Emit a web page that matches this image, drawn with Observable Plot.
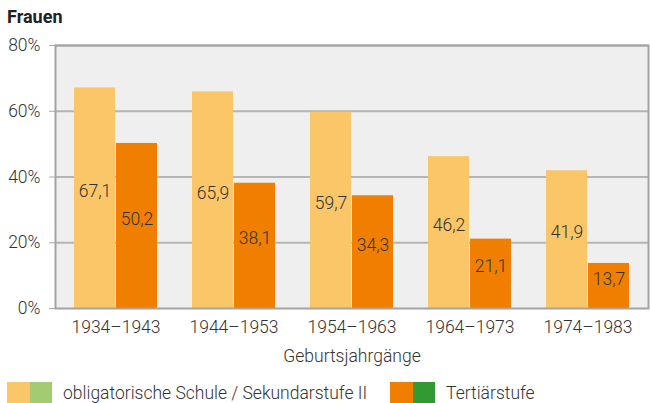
<!DOCTYPE html>
<html><head><meta charset="utf-8">
<script src="https://cdn.jsdelivr.net/npm/d3@7"></script>
<script src="https://cdn.jsdelivr.net/npm/@observablehq/plot@0.6"></script>
<style>
body{margin:0;background:#fff;font-family:Roboto,sans-serif;}
#wrap{position:relative;width:650px;height:403px;overflow:hidden}
#title{position:absolute;left:7px;top:7px;font-size:18px;font-weight:700;color:#222;line-height:20px}
#chart{position:absolute;left:0;top:30px}
#chart svg text{fill:#333}
#legend{position:absolute;left:7px;top:382px;display:flex;align-items:center;font-size:17.5px;font-weight:300;color:#333;line-height:22px;white-space:nowrap}
.sw{width:22.5px;height:22px;display:inline-block}
</style></head><body>
<div id="wrap"><div id="title">Frauen</div><div id="chart"></div><div id="legend"></div></div>
<script>
const cohorts = ["1934–1943","1944–1953","1954–1963","1964–1973","1974–1983"];
const secondary = [67.1, 65.9, 59.7, 46.2, 41.9];
const tertiary = [50.2, 38.1, 34.3, 21.1, 13.7];
const yTicks = [0, 20, 40, 60, 80];
const seriesNames = ["obligatorische Schule / Sekundarstufe II", "Tertiärstufe"];
const seriesColors = [["#fbc667", "#a3cb72"], ["#f07f00", "#339a33"]];
const xTitle = "Geburtsjahrgänge";

const data = cohorts.map((c, i) => ({cohort: c, secondary: secondary[i], tertiary: tertiary[i]}));
const fmt = v => v.toFixed(1).replace(".", ",");
const half = 42;

const chart = Plot.plot({
  width: 650, height: 345,
  marginTop: 15, marginBottom: 67, marginLeft: 55, marginRight: 2,
  style: {fontFamily: "Roboto, sans-serif", fontSize: "17.5px", fontWeight: 300, color: "#a8a8a8", background: "transparent"},
  x: {domain: cohorts, paddingInner: 0.295, paddingOuter: 0.1475, tickSize: 0, tickPadding: 12, label: xTitle, labelOffset: 53},
  y: {domain: [0, 80], ticks: yTicks, tickFormat: d => d + "%", tickSize: 6, tickPadding: 9, label: null},
  marks: [
    Plot.frame({fill: "#efefef", stroke: null}),
    Plot.ruleY(yTicks.filter(d => d > 0), {stroke: "#b5b5b5", strokeWidth: 2}),
    Plot.barY(data, {x: "cohort", y: "secondary", fill: seriesColors[0][0], insetRight: half}),
    Plot.barY(data, {x: "cohort", y: "tertiary", fill: seriesColors[1][0], insetLeft: half}),
    Plot.text(data, {x: "cohort", y: d => d.secondary / 2, text: d => fmt(d.secondary), dx: -half / 2, dy: -7, fill: "#333", fontSize: 17.5}),
    Plot.text(data, {x: "cohort", y: d => d.tertiary / 2, text: d => fmt(d.tertiary), dx: half / 2, dy: -7, fill: "#333", fontSize: 17.5}),
    Plot.frame({stroke: "#a3a3a3", strokeWidth: 2})
  ]
});
document.getElementById("chart").appendChild(chart);

const legend = document.getElementById("legend");
seriesNames.forEach((name, i) => {
  const item = document.createElement("div");
  item.style.display = "flex";
  item.style.alignItems = "center";
  item.style.marginRight = i === 0 ? "23px" : "0";
  seriesColors[i].forEach(c => {
    const s = document.createElement("span");
    s.className = "sw"; s.style.background = c;
    item.appendChild(s);
  });
  const t = document.createElement("span");
  t.textContent = name;
  t.style.marginLeft = "11px";
  item.appendChild(t);
  legend.appendChild(item);
});
</script>
</body></html>
